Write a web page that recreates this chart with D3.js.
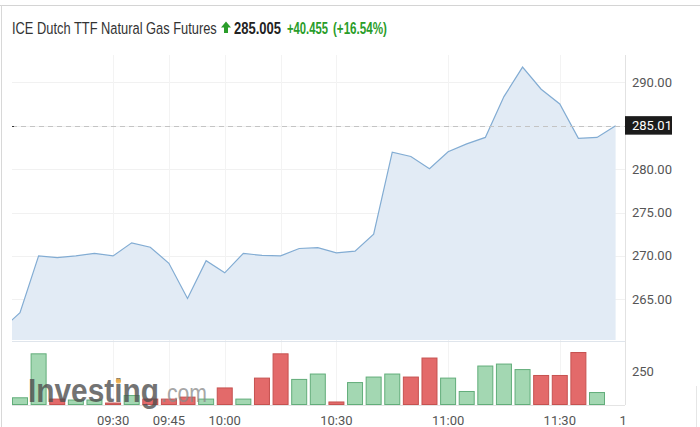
<!DOCTYPE html>
<html>
<head>
<meta charset="utf-8">
<script src="https://cdn.jsdelivr.net/npm/d3@7/dist/d3.min.js"></script>
<style>
  html, body { margin: 0; padding: 0; background: #fff; }
  svg { display: block; }
</style>
</head>
<body>
<svg id="chart" width="700" height="427"></svg>
<script>
// ---------- DATA ----------
const times = ["09:00","09:05","09:10","09:15","09:20","09:25","09:30","09:35","09:40","09:45",
  "09:50","09:55","10:00","10:05","10:10","10:15","10:20","10:25","10:30","10:35",
  "10:40","10:45","10:50","10:55","11:00","11:05","11:10","11:15","11:20","11:25",
  "11:30","11:35","11:40","11:45"];
const prices = [261.5, 263.45, 270.0, 269.8, 270.0, 270.3, 270.0, 271.5, 271.0, 269.15,
  265.1, 269.45, 268.05, 270.3, 270.05, 270.0, 270.85, 270.95, 270.35, 270.55,
  272.5, 281.95, 281.45, 280.05, 282.0, 282.9, 283.65, 288.35, 291.75, 289.2,
  287.5, 283.55, 283.65, 285.005];
const volumes = [null, 55, 390, 45, 38, 38, 15, 72, 45, 45,
  60, 45, 130, 45, 205, 390, 195, 236, 23, 171,
  213, 236, 213, 358, 205, 103, 297, 312, 270, 225,
  225, 400, 95, null];
const directions = [null, "up","up","down","up","up","down","up","down","down",
  "down","up","down","up","down","down","up","up","down","up",
  "up","up","down","down","up","up","up","up","up","down",
  "down","down","up", null];
const priceTicks = [265, 270, 275, 280, 285, 290];
const priceTickLabels = ["265.00", "270.00", "275.00", "280.00", null, "290.00"];
const volTicks = [250];
const volTickLabels = ["250"];
const timeTicks = ["09:30", "09:45", "10:00", "10:15", "10:30", "11:00", "11:30"];
const timeTickLabels = ["09:30", "09:45", "10:00", null, "10:30", "11:00", "11:30"];
const extraTickTime = "11:47";
const extraTickLabel = "1";
const title = "ICE Dutch TTF Natural Gas Futures";
const lastPrice = "285.005";
const change = "+40.455";
const changePct = "(+16.54%)";
const lastPriceTag = "285.01";
const lastValue = 285.005;

// ---------- HELPERS ----------
const toMin = s => { const [h, m] = s.split(":").map(Number); return h * 60 + m; };
const svg = d3.select("#chart");
const FONT = "Roboto, 'Liberation Sans', Arial, sans-serif";

const plotLeft = 12, plotRight = 625, priceTop = 55, priceBottom = 340, volBottom = 405;

const x = d3.scaleLinear().domain([toMin("09:05"), toMin("11:40")]).range([20, 597]);
const y = d3.scaleLinear().domain([265, 290]).range([299.3, 82.3]);
const yv = d3.scaleLinear().domain([0, 250]).range([404.5, 371.7]);

const data = times.map((t, i) => ({ t: toMin(t), p: prices[i], v: volumes[i], d: directions[i] }));

// fit a text horizontally to a target width using a scale transform
function fitText(sel, x0, y0, target) {
  const w = sel.node().getComputedTextLength();
  const s = w > 0 ? target / w : 1;
  sel.attr("x", 0).attr("y", 0).attr("transform", `translate(${x0},${y0}) scale(${s},1)`);
  return sel;
}

// ---------- FRAME ----------
svg.append("line").attr("x1", 0).attr("x2", 700).attr("y1", 5.5).attr("y2", 5.5)
  .attr("stroke", "#d4d4d4");
svg.append("line").attr("x1", 1.5).attr("x2", 1.5).attr("y1", 5).attr("y2", 427)
  .attr("stroke", "#d8d8d8");
svg.append("line").attr("x1", 696.5).attr("x2", 696.5).attr("y1", 386).attr("y2", 427)
  .attr("stroke", "#e6e6e6");

// ---------- HEADER ----------
const hdr = svg.append("g").attr("font-family", "'Liberation Sans', Arial, sans-serif").attr("font-size", 16.5);
fitText(hdr.append("text").attr("fill", "#333").text(title), 12, 33.5, 205);
hdr.append("path")
  .attr("d", "M226,21.5 L231,27.5 L228,27.5 L228,33 L224,33 L224,27.5 L221,27.5 Z")
  .attr("fill", "#2a9d2a");
fitText(hdr.append("text").attr("fill", "#222").attr("font-weight", "bold").text(lastPrice), 234, 33.5, 47);
fitText(hdr.append("text").attr("fill", "#2a9d2a").attr("font-weight", "bold").attr("font-size", 16)
  .text(change), 287, 33.5, 41);
fitText(hdr.append("text").attr("fill", "#2a9d2a").attr("font-weight", "bold").attr("font-size", 16)
  .text(changePct), 333, 33.5, 54);

// ---------- GRID ----------
const grid = svg.append("g");
grid.selectAll("line.h").data(priceTicks).join("line")
  .attr("x1", plotLeft).attr("x2", plotRight)
  .attr("y1", d => Math.round(y(d)) + 0.5).attr("y2", d => Math.round(y(d)) + 0.5)
  .attr("stroke", "#f1f1f1");
grid.selectAll("line.v").data(timeTicks).join("line")
  .attr("x1", d => Math.round(x(toMin(d))) + 0.5).attr("x2", d => Math.round(x(toMin(d))) + 0.5)
  .attr("y1", priceTop).attr("y2", volBottom)
  .attr("stroke", "#f3f3f3");

// ---------- PRICE AREA ----------
svg.append("clipPath").attr("id", "pclip").append("rect")
  .attr("x", plotLeft).attr("y", priceTop).attr("width", plotRight - plotLeft).attr("height", priceBottom - priceTop);
const pg = svg.append("g").attr("clip-path", "url(#pclip)");
pg.append("path").datum(data)
  .attr("d", d3.area().x(d => x(d.t)).y0(priceBottom).y1(d => y(d.p)))
  .attr("fill", "#e2ebf5");
pg.append("path").datum(data)
  .attr("d", d3.line().x(d => x(d.t)).y(d => y(d.p)))
  .attr("fill", "none").attr("stroke", "#82acd3").attr("stroke-width", 1.2);

// separator between panes
svg.append("line").attr("x1", plotLeft).attr("x2", plotRight).attr("y1", 341.5).attr("y2", 341.5)
  .attr("stroke", "#dfe5ec");

// dashed last price line
svg.append("line").attr("x1", plotLeft).attr("x2", plotRight)
  .attr("y1", Math.round(y(lastValue)) + 0.5).attr("y2", Math.round(y(lastValue)) + 0.5)
  .attr("stroke", "#c4c4c4").attr("stroke-dasharray", "5,4");
svg.append("line").attr("x1", plotLeft).attr("x2", plotLeft + 2)
  .attr("y1", Math.round(y(lastValue)) + 0.5).attr("y2", Math.round(y(lastValue)) + 0.5)
  .attr("stroke", "#333");

// ---------- VOLUME BARS ----------
const bw = 16;
const vdata = data.filter(d => d.v != null);
svg.append("g").selectAll("rect").data(vdata).join("rect")
  .attr("x", d => x(d.t) - bw / 2 + 0.5)
  .attr("width", bw - 1)
  .attr("y", d => yv(d.v) + 0.5)
  .attr("height", d => Math.max(0, yv(0) - yv(d.v) - 0.5))
  .attr("fill", d => d.d === "up" ? "#a3d7b2" : "#e36a6a")
  .attr("stroke", d => d.d === "up" ? "#62ad7a" : "#c65250")
  .attr("stroke-width", 1);

// bottom line of volume pane
svg.append("line").attr("x1", plotLeft).attr("x2", plotRight).attr("y1", volBottom + 0.5).attr("y2", volBottom + 0.5)
  .attr("stroke", "#e4e4e4");

// ---------- WATERMARK ----------
const wm = svg.append("g").attr("font-family", "'Liberation Sans', Arial, sans-serif");
const wmText = wm.append("text")
  .attr("font-size", 33).attr("font-weight", "bold").attr("fill", "#4d4d4d").attr("opacity", 0.78)
  .text("Investing");
fitText(wmText, 28, 401.5, 131);
const wmCom = wm.append("text")
  .attr("font-size", 25).attr("fill", "#8a8a8a").attr("opacity", 0.75).text(".com");
fitText(wmCom, 161, 401.5, 46);
try {
  const ext = wmText.node().getExtentOfChar(6);
  const w = wmText.node().getComputedTextLength();
  const s = 131 / w;
  wm.append("circle").attr("cx", 28 + (ext.x + ext.width / 2) * s).attr("cy", 381)
    .attr("r", 2.6).attr("fill", "#f0b04a").attr("opacity", 0.9);
} catch (e) {}

// ---------- AXES ----------
svg.append("line").attr("x1", plotRight + 0.5).attr("x2", plotRight + 0.5).attr("y1", priceTop).attr("y2", volBottom)
  .attr("stroke", "#e2e2e2");

const ax = svg.append("g").attr("font-family", FONT).attr("font-size", 13).attr("fill", "#555");
ax.selectAll("text.p").data(priceTicks.map((v, i) => ({ v, l: priceTickLabels[i] })).filter(d => d.l))
  .join("text")
  .attr("x", 632).attr("y", d => y(d.v)).attr("dy", "0.35em").text(d => d.l);
ax.selectAll("text.v").data(volTicks.map((v, i) => ({ v, l: volTickLabels[i] })))
  .join("text")
  .attr("x", 632).attr("y", d => yv(d.v)).attr("dy", "0.35em").text(d => d.l);
ax.selectAll("text.t").data(timeTicks.map((t, i) => ({ t, l: timeTickLabels[i] })).filter(d => d.l))
  .join("text")
  .attr("x", d => x(toMin(d.t))).attr("y", 425).attr("text-anchor", "middle").text(d => d.l);
ax.append("text").attr("x", x(toMin(extraTickTime))).attr("y", 425).attr("text-anchor", "middle").text(extraTickLabel);

// last price tag
const tagY = y(lastValue);
svg.append("rect").attr("x", plotRight).attr("y", tagY - 9.5).attr("width", 47).attr("height", 18.5)
  .attr("fill", "#1b1b1b");
svg.append("text").attr("x", 632).attr("y", tagY).attr("dy", "0.35em")
  .attr("font-family", FONT).attr("font-size", 13).attr("fill", "#fff").text(lastPriceTag);
</script>
</body>
</html>
